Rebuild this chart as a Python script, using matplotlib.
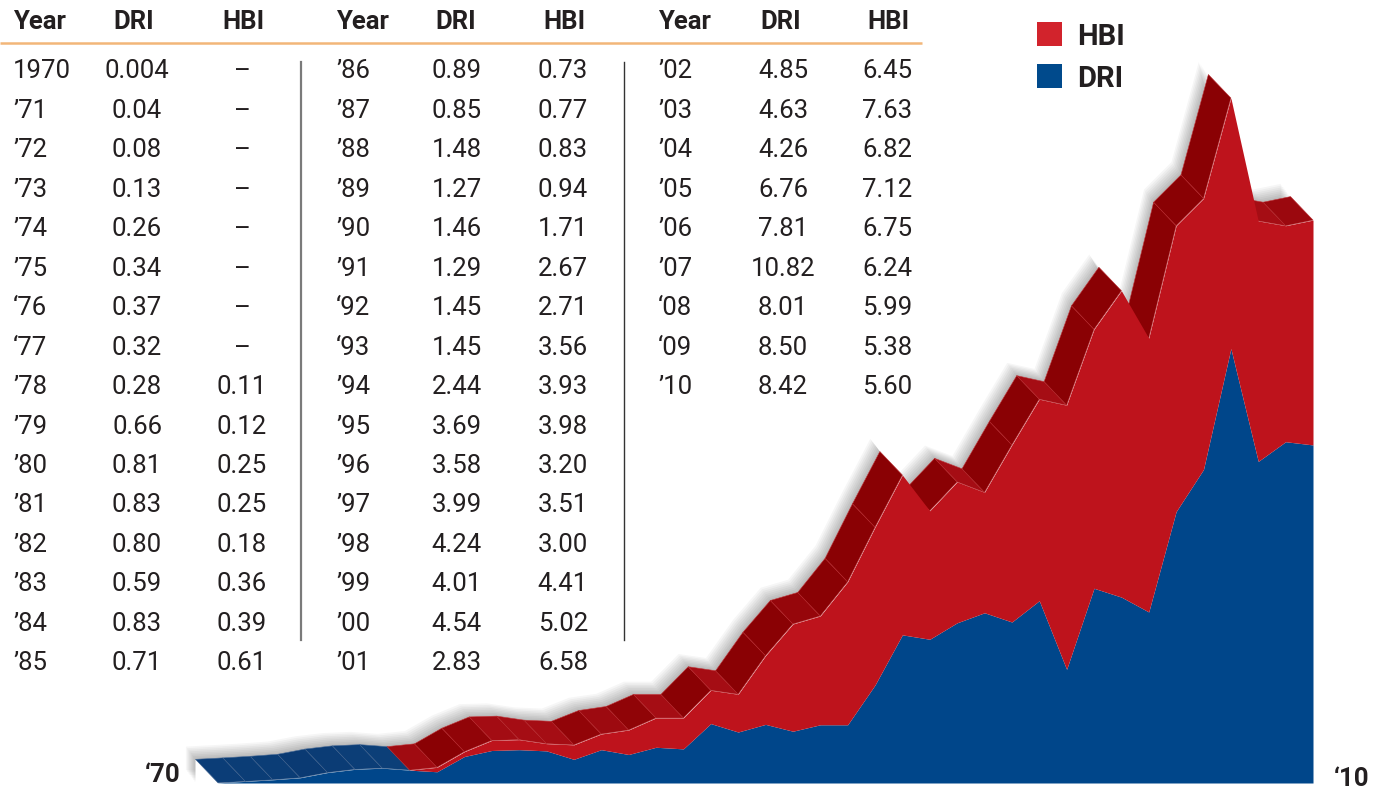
import numpy as np
import matplotlib
matplotlib.use("Agg")
import matplotlib.pyplot as plt
from matplotlib.patches import Polygon, Rectangle
import matplotlib.transforms as mtransforms
from matplotlib.colors import to_rgb

# ---------------- data ----------------
years = list(range(1970, 2011))
year_labels = ["1970", "’71", "’72", "’73", "’74", "’75", "‘76", "‘77", "’78", "’79",
               "’80", "’81", "’82", "’83", "’84", "’85",
               "’86", "’87", "’88", "’89", "’90", "’91", "‘92", "‘93", "’94", "’95",
               "’96", "’97", "’98", "’99", "’00", "’01",
               "’02", "’03", "’04", "’05", "’06", "’07", "‘08", "‘09", "’10"]
dri = [0.004, 0.04, 0.08, 0.13, 0.26, 0.34, 0.37, 0.32, 0.28, 0.66, 0.81, 0.83, 0.80, 0.59, 0.83, 0.71,
       0.89, 0.85, 1.48, 1.27, 1.46, 1.29, 1.45, 1.45, 2.44, 3.69, 3.58, 3.99, 4.24, 4.01, 4.54, 2.83,
       4.85, 4.63, 4.26, 6.76, 7.81, 10.82, 8.01, 8.50, 8.42]
hbi = [None, None, None, None, None, None, None, None, 0.11, 0.12, 0.25, 0.25, 0.18, 0.36, 0.39, 0.61,
       0.73, 0.77, 0.83, 0.94, 1.71, 2.67, 2.71, 3.56, 3.93, 3.98, 3.20, 3.51, 3.00, 4.41, 5.02, 6.58,
       6.45, 7.63, 6.82, 7.12, 6.75, 6.24, 5.99, 5.38, 5.60]
dri_fmt = ["0.004", "0.04", "0.08", "0.13", "0.26", "0.34", "0.37", "0.32", "0.28", "0.66", "0.81",
           "0.83", "0.80", "0.59", "0.83", "0.71", "0.89", "0.85", "1.48", "1.27", "1.46", "1.29",
           "1.45", "1.45", "2.44", "3.69", "3.58", "3.99", "4.24", "4.01", "4.54", "2.83", "4.85",
           "4.63", "4.26", "6.76", "7.81", "10.82", "8.01", "8.50", "8.42"]
headers = ["Year", "DRI", "HBI"]
start_label = "‘70"
end_label = "‘10"

# ---------------- styles ----------------
W, H = 1387, 792
TXT = "#231f20"
BLUE = "#00468a"
RED = "#be131c"
TOP_RED_DARK, TOP_RED_LIGHT = "#8a0104", "#a50d14"
TOP_BLUE_DARK, TOP_BLUE_LIGHT = "#07306a", "#0c3f78"
LEG_RED, LEG_BLUE = "#d2232c", "#004a8c"
FONT = "Roboto"

fig = plt.figure(figsize=(W / 100, H / 100), dpi=100)
fig.patch.set_facecolor("white")

# overlay axes in pixel coordinates for table / legend
ov = fig.add_axes([0, 0, 1, 1])
ov.set_xlim(0, W)
ov.set_ylim(H, 0)
ov.axis("off")

# ---------------- table ----------------
groups = [(0, 16), (16, 32), (32, 41)]
year_x = [13, 336, 658]
dri_hx = [134, 456, 781]
hbi_hx = [243, 564, 888]
dri_x = [137, 457, 783]
hbi_x = [242, 563, 887]
row0, row_step = 71.5, 39.45
fs = 18.5
for g, (a, b) in enumerate(groups):
    ov.text(year_x[g], 22, headers[0], fontsize=fs, fontweight="bold", color=TXT,
            family=FONT, ha="left", va="center")
    ov.text(dri_hx[g], 22, headers[1], fontsize=fs, fontweight="bold", color=TXT,
            family=FONT, ha="center", va="center")
    ov.text(hbi_hx[g], 22, headers[2], fontsize=fs, fontweight="bold", color=TXT,
            family=FONT, ha="center", va="center")
    for r, i in enumerate(range(a, b)):
        y = row0 + r * row_step
        ov.text(year_x[g], y, year_labels[i], fontsize=fs, color=TXT, family=FONT,
                ha="left", va="center")
        ov.text(dri_x[g], y, dri_fmt[i], fontsize=fs, color=TXT, family=FONT,
                ha="center", va="center")
        h = "–" if hbi[i] is None else f"{hbi[i]:.2f}"
        ov.text(hbi_x[g], y, h, fontsize=fs, color=TXT, family=FONT,
                ha="center", va="center")

ov.plot([0, 922], [43, 43], color="#f2b679", lw=1.8, solid_capstyle="butt")
ov.plot([301, 301], [62, 640], color="#7a7a7a", lw=1.6)
ov.plot([624, 624], [62, 640], color="#333333", lw=1.0)

# legend
ov.add_patch(Rectangle((1037, 22), 25, 24, color=LEG_RED, lw=0))
ov.add_patch(Rectangle((1037, 64), 25, 24, color=LEG_BLUE, lw=0))
ov.text(1077, 37, "HBI", fontsize=21, fontweight="bold", color=TXT, family=FONT,
        ha="left", va="center")
ov.text(1077, 79, "DRI", fontsize=21, fontweight="bold", color=TXT, family=FONT,
        ha="left", va="center")

# ---------------- chart ----------------
x0_px, x1_px, base_px = 218, 1313, 783
px_per_unit = 40.15
ymax = 19.0
ax = fig.add_axes([x0_px / W, (H - base_px) / H, (x1_px - x0_px) / W, ymax * px_per_unit / H])
ax.set_xlim(years[0], years[-1])
ax.set_ylim(0, ymax)
ax.axis("off")
ax.set_zorder(0)
ov.set_zorder(1)
ov.patch.set_alpha(0)

yrs = np.array(years, dtype=float)
d_arr = np.array(dri, dtype=float)
h_arr = np.array([0.0 if v is None else v for v in hbi])
tot = d_arr + h_arr

# depth offset (pixels, y up) converted to data units
depth_px = (-22.5, 23.5)
sx = (x1_px - x0_px) / (years[-1] - years[0])
ddx = depth_px[0] / sx
ddy = depth_px[1] / px_per_unit

# soft drop shadow behind the top surface
bx = np.concatenate([[yrs[0] + ddx], yrs + ddx, [yrs[-1]]])
by = np.concatenate([[0], tot + ddy, [0]])
for k in range(1, 9):
    off = mtransforms.ScaledTranslation(-0.012 * k, 0.016 * k, fig.dpi_scale_trans)
    sh = Polygon(np.column_stack([bx, by]), closed=True, facecolor="black", alpha=0.035,
                 edgecolor="none", transform=ax.transData + off, clip_on=False, zorder=1)
    ax.add_patch(sh)
ax.add_patch(Polygon(np.column_stack([bx, by]), closed=True, facecolor="white",
                     edgecolor="none", clip_on=False, zorder=1.5))


def mix(c1, c2, t):
    a, b = np.array(to_rgb(c1)), np.array(to_rgb(c2))
    return tuple(a * (1 - t) + b * t)


# top (extruded) faces
for i in range(len(yrs) - 1):
    dxp = (yrs[i + 1] - yrs[i]) * sx
    dyp = (tot[i + 1] - tot[i]) * px_per_unit
    # visible only if front-facing
    if dyp <= -dxp:
        continue
    theta = np.arctan2(dyp, dxp)
    t = np.clip(theta / (np.pi / 6), 0, 1)
    if h_arr[i + 1] > 0:
        col = mix(TOP_RED_LIGHT, TOP_RED_DARK, t)
        ec = "#b5262b"
    else:
        col = mix(TOP_BLUE_LIGHT, TOP_BLUE_DARK, t)
        ec = "#3c5f8c"
    quad = [(yrs[i], tot[i]), (yrs[i + 1], tot[i + 1]),
            (yrs[i + 1] + ddx, tot[i + 1] + ddy), (yrs[i] + ddx, tot[i] + ddy)]
    ax.add_patch(Polygon(quad, closed=True, facecolor=col, edgecolor=ec, lw=0.4,
                         clip_on=False, zorder=2 + i * 0.01, joinstyle="round"))

# front face (stacked areas)
fb = ax.fill_between(yrs, 0, d_arr, color=BLUE, lw=0, zorder=5)
fr = ax.fill_between(yrs, d_arr, tot, color=RED, lw=0, zorder=5)
fb.set_clip_on(False)
fr.set_clip_on(False)

ov.text(181, 775, start_label, fontsize=18.5, fontweight="bold", color=TXT, family=FONT,
        ha="right", va="center")
ov.text(1334, 779, end_label, fontsize=18.5, fontweight="bold", color=TXT, family=FONT,
        ha="left", va="center")

fig.savefig("out.png", dpi=100, facecolor="white")
